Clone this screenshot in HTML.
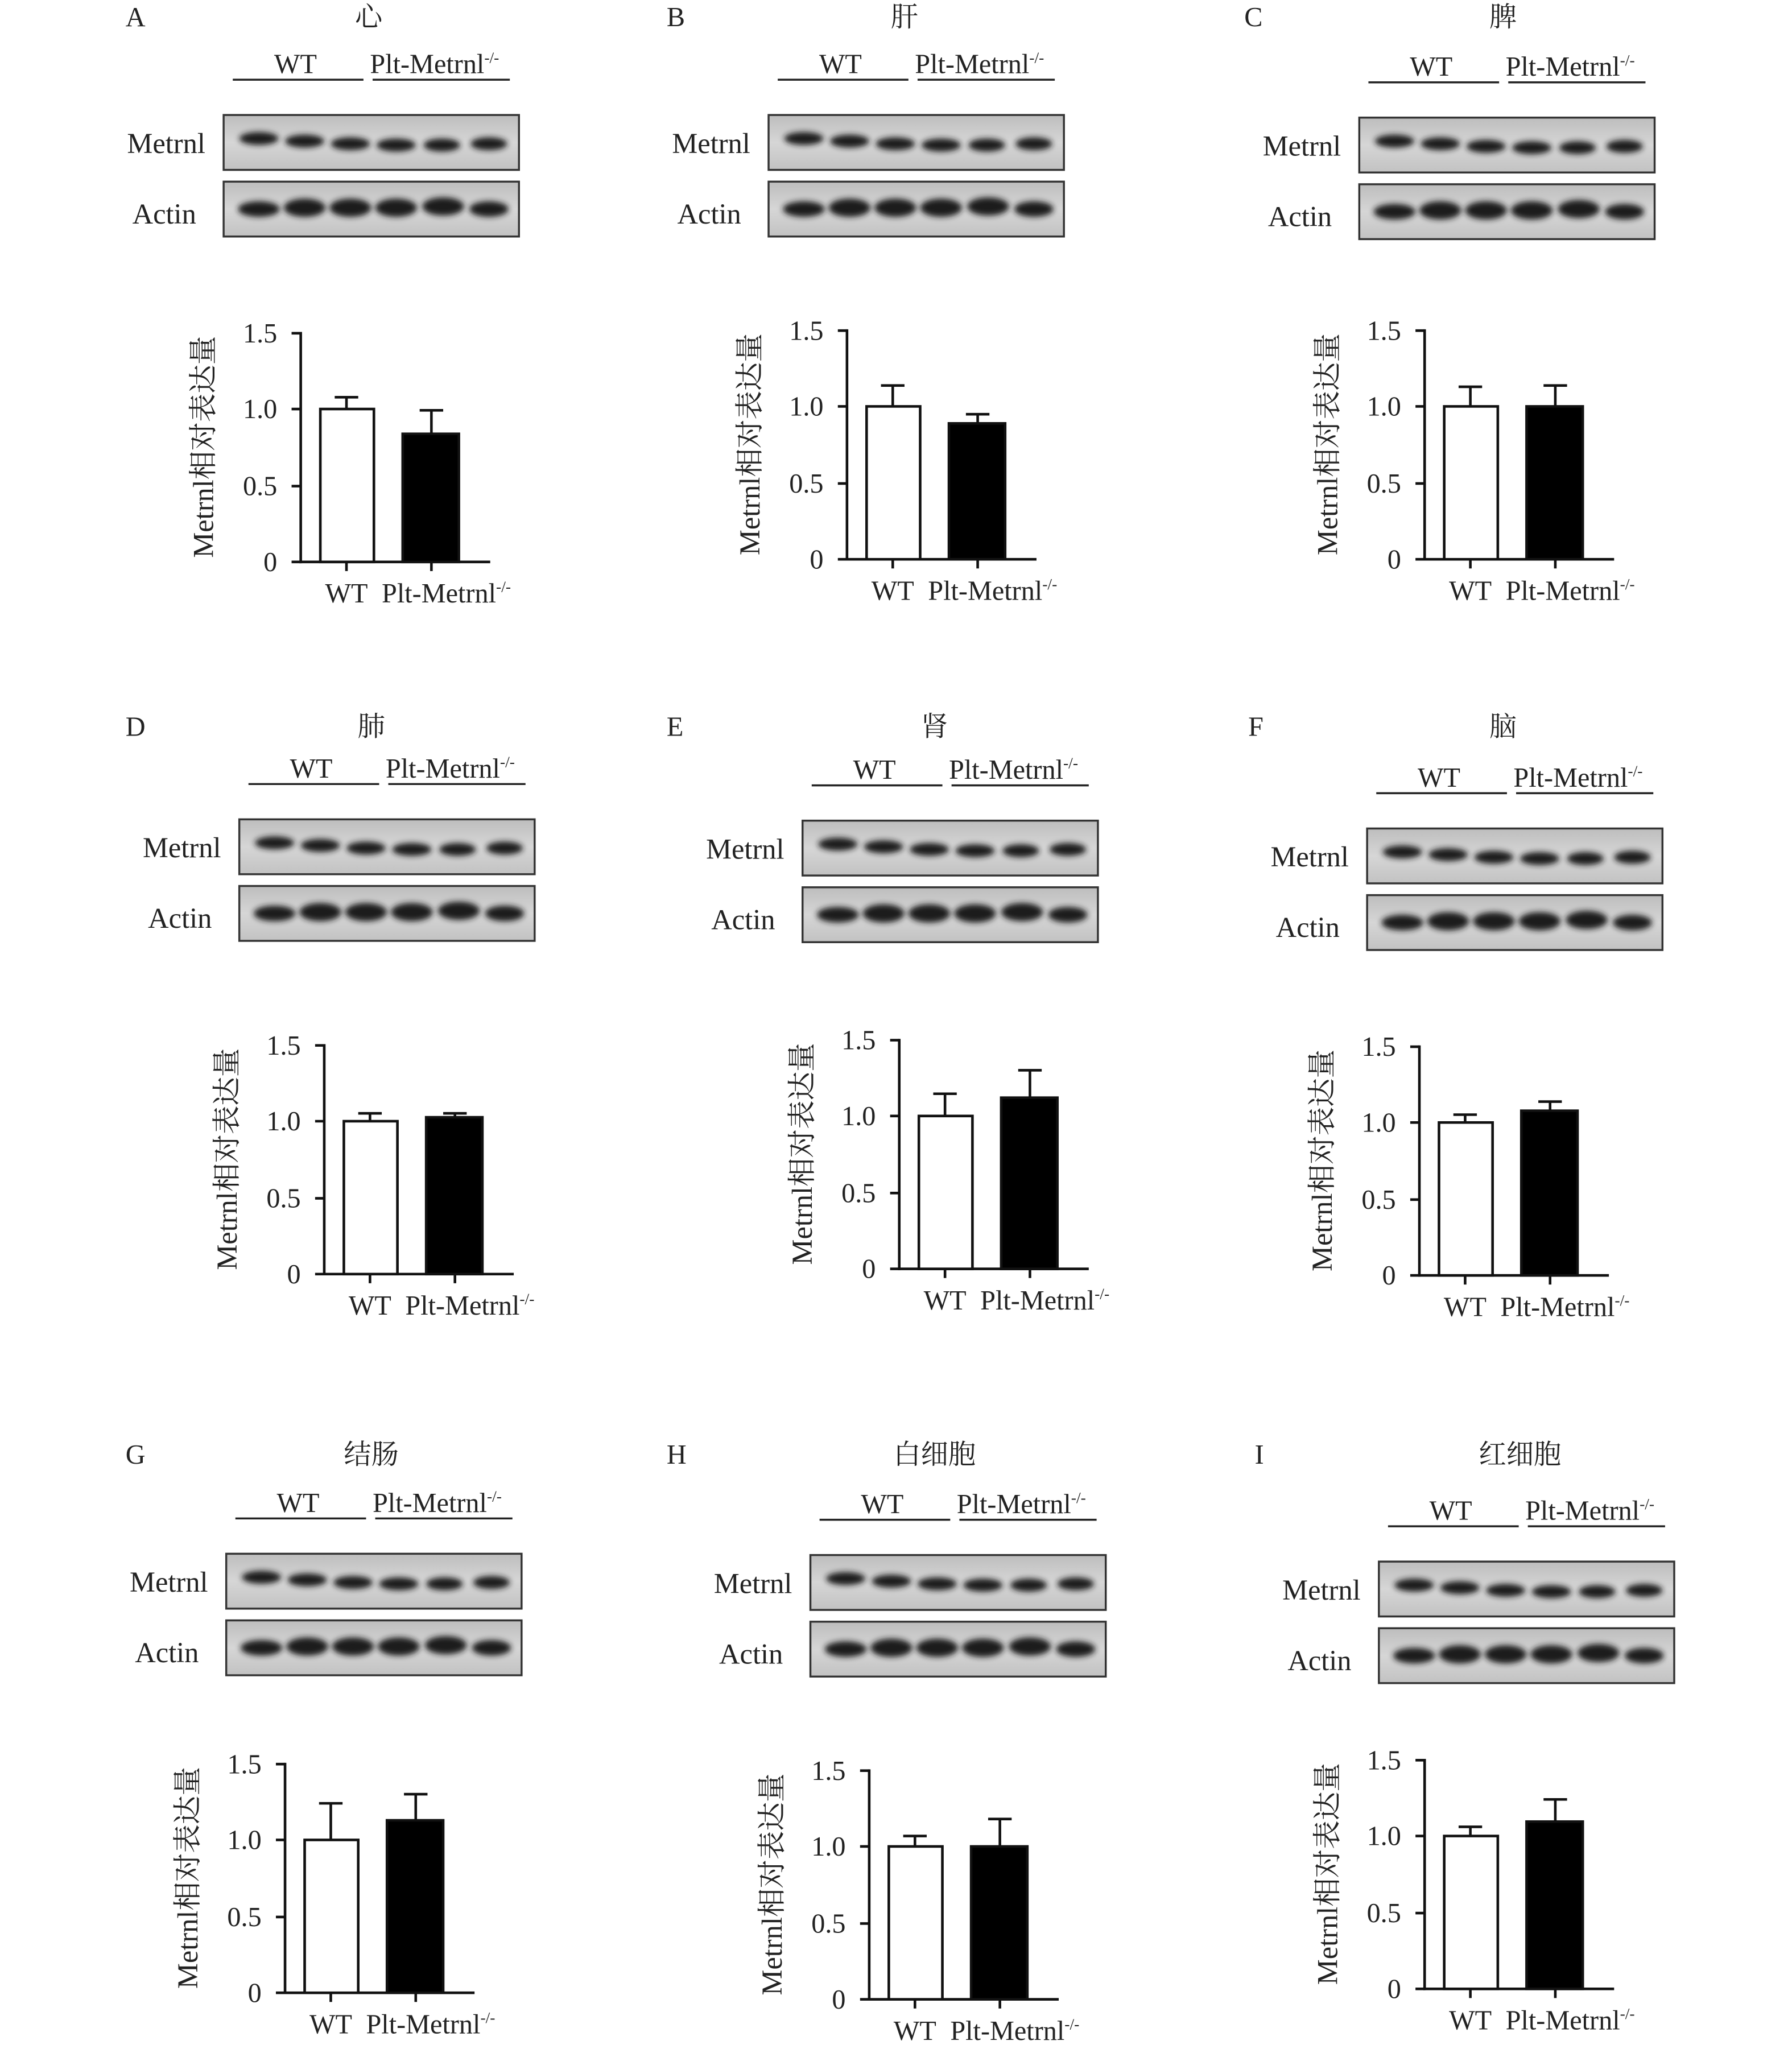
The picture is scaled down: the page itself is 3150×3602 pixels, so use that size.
<!DOCTYPE html>
<html><head><meta charset="utf-8"><style>
html,body{margin:0;padding:0;background:#fff;}
svg{display:block;}
text{font-family:"Liberation Serif","Noto Serif CJK SC",serif;fill:#222;}
</style></head><body>
<svg width="3150" height="3602" viewBox="0 0 1371 1568" xmlns="http://www.w3.org/2000/svg">
<defs>
<filter id="bl" x="-20%" y="-50%" width="140%" height="200%"><feGaussianBlur stdDeviation="2.2"/></filter>
<linearGradient id="bg" x1="0" y1="0" x2="0" y2="1"><stop offset="0" stop-color="#bdbdbd"/><stop offset="0.5" stop-color="#d6d6d6"/><stop offset="1" stop-color="#c2c2c2"/></linearGradient>
<g id="blots">
<line x1="178" y1="61" x2="278" y2="61" stroke="#222" stroke-width="1.5"/>
<line x1="285" y1="61" x2="390" y2="61" stroke="#222" stroke-width="1.5"/>
<text x="226" y="56" font-size="21" text-anchor="middle">WT</text>
<text x="283" y="56" font-size="21">Plt-Metrnl<tspan dy="-8" font-size="12">-/-</tspan></text>
<text x="157" y="117" font-size="22" text-anchor="end">Metrnl</text>
<text x="150" y="171" font-size="22" text-anchor="end">Actin</text>
<rect x="171" y="88" width="226" height="42" fill="url(#bg)" stroke="#333" stroke-width="1.5"/>
<rect x="171" y="139" width="226" height="42" fill="url(#bg)" stroke="#333" stroke-width="1.5"/>
<g fill="#1a1a1a" filter="url(#bl)">
<ellipse cx="198" cy="106" rx="15" ry="5"/><ellipse cx="233" cy="108" rx="15" ry="5"/><ellipse cx="268" cy="110" rx="15" ry="5"/><ellipse cx="303" cy="111" rx="15" ry="5"/><ellipse cx="338" cy="111" rx="14" ry="5"/><ellipse cx="374" cy="110" rx="14" ry="5"/>
<ellipse cx="198" cy="160" rx="16" ry="6"/><ellipse cx="233" cy="159" rx="16" ry="7"/><ellipse cx="268" cy="159" rx="16" ry="7"/><ellipse cx="303" cy="159" rx="16" ry="7"/><ellipse cx="339" cy="158" rx="16" ry="7"/><ellipse cx="374" cy="160" rx="15" ry="6"/>
</g>
</g>
<g id="axes">
<text transform="translate(163,342) rotate(-90)" font-size="22" text-anchor="middle">Metrnl相对表达量</text>
<g stroke="#111" stroke-width="2" fill="none">
<line x1="230" y1="254" x2="230" y2="431"/>
<line x1="229" y1="430" x2="375" y2="430"/>
<line x1="223" y1="255" x2="230" y2="255"/><line x1="223" y1="313" x2="230" y2="313"/><line x1="223" y1="372" x2="230" y2="372"/><line x1="223" y1="430" x2="230" y2="430"/>
<line x1="265" y1="430" x2="265" y2="437"/><line x1="330" y1="430" x2="330" y2="437"/>
</g>
<g font-size="21" text-anchor="end">
<text x="212" y="262">1.5</text><text x="212" y="320">1.0</text><text x="212" y="379">0.5</text><text x="212" y="437">0</text>
</g>
<text x="265" y="461" font-size="21" text-anchor="middle">WT</text>
<text x="292" y="461" font-size="21">Plt-Metrnl<tspan dy="-8" font-size="12">-/-</tspan></text>
</g>
</defs>

<g font-size="21">
<text x="96" y="20">A</text><text x="282" y="20" text-anchor="middle">心</text>
<text x="510" y="20">B</text><text x="692" y="20" text-anchor="middle">肝</text>
<text x="952" y="20">C</text><text x="1150" y="20" text-anchor="middle">脾</text>
<text x="96" y="563">D</text><text x="284" y="563" text-anchor="middle">肺</text>
<text x="510" y="563">E</text><text x="715" y="563" text-anchor="middle">肾</text>
<text x="955" y="563">F</text><text x="1150" y="563" text-anchor="middle">脑</text>
<text x="96" y="1120">G</text><text x="284" y="1120" text-anchor="middle">结肠</text>
<text x="510" y="1120">H</text><text x="715" y="1120" text-anchor="middle">白细胞</text>
<text x="960" y="1120">I</text><text x="1163" y="1120" text-anchor="middle">红细胞</text>
</g>

<use href="#blots" transform="translate(0,0)"/>
<use href="#blots" transform="translate(417,0)"/>
<use href="#blots" transform="translate(869,2)"/>
<use href="#blots" transform="translate(12,539)"/>
<use href="#blots" transform="translate(443,540)"/>
<use href="#blots" transform="translate(875,546)"/>
<use href="#blots" transform="translate(2,1101)"/>
<use href="#blots" transform="translate(449,1102)"/>
<use href="#blots" transform="translate(884,1107)"/>

<g transform="translate(0,0)"><use href="#axes"/>
<g stroke="#111" stroke-width="2"><line x1="265" y1="313" x2="265" y2="304"/><line x1="256" y1="304" x2="274" y2="304"/><line x1="330" y1="332" x2="330" y2="314"/><line x1="321" y1="314" x2="339" y2="314"/>
<rect x="245" y="313" width="41" height="117" fill="#fff"/><rect x="308" y="332" width="43" height="98" fill="#000"/></g></g>

<g transform="translate(418,-2)"><use href="#axes"/>
<g stroke="#111" stroke-width="2"><line x1="265" y1="313" x2="265" y2="297"/><line x1="256" y1="297" x2="274" y2="297"/><line x1="330" y1="326" x2="330" y2="319"/><line x1="321" y1="319" x2="339" y2="319"/>
<rect x="245" y="313" width="41" height="117" fill="#fff"/><rect x="308" y="326" width="43" height="104" fill="#000"/></g></g>

<g transform="translate(860,-2)"><use href="#axes"/>
<g stroke="#111" stroke-width="2"><line x1="265" y1="313" x2="265" y2="298"/><line x1="256" y1="298" x2="274" y2="298"/><line x1="330" y1="313" x2="330" y2="297"/><line x1="321" y1="297" x2="339" y2="297"/>
<rect x="245" y="313" width="41" height="117" fill="#fff"/><rect x="308" y="313" width="43" height="117" fill="#000"/></g></g>

<g transform="translate(18,545)"><use href="#axes"/>
<g stroke="#111" stroke-width="2"><line x1="265" y1="313" x2="265" y2="307"/><line x1="256" y1="307" x2="274" y2="307"/><line x1="330" y1="310" x2="330" y2="307"/><line x1="321" y1="307" x2="339" y2="307"/>
<rect x="245" y="313" width="41" height="117" fill="#fff"/><rect x="308" y="310" width="43" height="120" fill="#000"/></g></g>

<g transform="translate(458,541)"><use href="#axes"/>
<g stroke="#111" stroke-width="2"><line x1="265" y1="313" x2="265" y2="296"/><line x1="256" y1="296" x2="274" y2="296"/><line x1="330" y1="299" x2="330" y2="278"/><line x1="321" y1="278" x2="339" y2="278"/>
<rect x="245" y="313" width="41" height="117" fill="#fff"/><rect x="308" y="299" width="43" height="131" fill="#000"/></g></g>

<g transform="translate(856,546)"><use href="#axes"/>
<g stroke="#111" stroke-width="2"><line x1="265" y1="313" x2="265" y2="307"/><line x1="256" y1="307" x2="274" y2="307"/><line x1="330" y1="304" x2="330" y2="297"/><line x1="321" y1="297" x2="339" y2="297"/>
<rect x="245" y="313" width="41" height="117" fill="#fff"/><rect x="308" y="304" width="43" height="126" fill="#000"/></g></g>

<g transform="translate(-12,1095)"><use href="#axes"/>
<g stroke="#111" stroke-width="2"><line x1="265" y1="313" x2="265" y2="285"/><line x1="256" y1="285" x2="274" y2="285"/><line x1="330" y1="298" x2="330" y2="278"/><line x1="321" y1="278" x2="339" y2="278"/>
<rect x="245" y="313" width="41" height="117" fill="#fff"/><rect x="308" y="298" width="43" height="132" fill="#000"/></g></g>

<g transform="translate(435,1100)"><use href="#axes"/>
<g stroke="#111" stroke-width="2"><line x1="265" y1="313" x2="265" y2="305"/><line x1="256" y1="305" x2="274" y2="305"/><line x1="330" y1="313" x2="330" y2="292"/><line x1="321" y1="292" x2="339" y2="292"/>
<rect x="245" y="313" width="41" height="117" fill="#fff"/><rect x="308" y="313" width="43" height="117" fill="#000"/></g></g>

<g transform="translate(860,1092)"><use href="#axes"/>
<g stroke="#111" stroke-width="2"><line x1="265" y1="313" x2="265" y2="306"/><line x1="256" y1="306" x2="274" y2="306"/><line x1="330" y1="302" x2="330" y2="285"/><line x1="321" y1="285" x2="339" y2="285"/>
<rect x="245" y="313" width="41" height="117" fill="#fff"/><rect x="308" y="302" width="43" height="128" fill="#000"/></g></g>
</svg>
</body></html>
